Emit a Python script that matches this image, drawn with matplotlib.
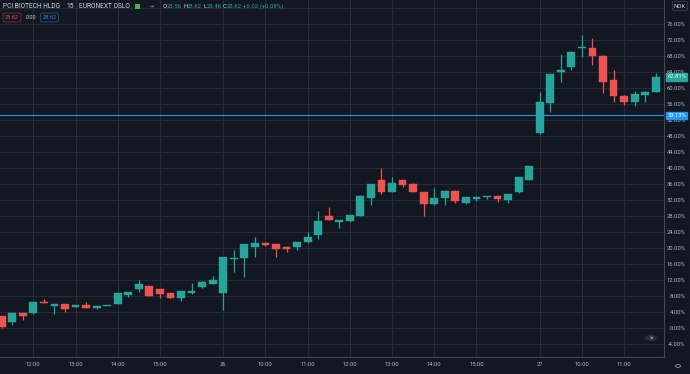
import matplotlib
matplotlib.use('Agg')
import matplotlib.pyplot as plt
import pandas as pd
import numpy as np

# ---------------- data ----------------
session_25 = pd.date_range('2020-05-25 11:15', '2020-05-25 16:15', freq='15min')
session_26 = pd.date_range('2020-05-26 09:00', '2020-05-26 16:15', freq='15min')
session_27 = pd.date_range('2020-05-27 09:00', '2020-05-27 11:45', freq='15min')
times = list(session_25) + list(session_26) + list(session_27)

opens = [3.1, 1.4, 3.7, 3.7, 6.6, 5.5, 5.9, 5.3, 5.7, 5.0, 5.5, 6.1, 8.25, 9.75, 10.5, 9.75, 8.7, 7.4, 8.7, 10.2, 11.0,
         8.8, 17.2, 17.4, 20.3, 21.2, 20.9, 20.3, 20.3, 21.4, 23.25, 28.0, 26.4, 26.75, 28.1, 32.4, 36.9, 34.0, 36.9,
         35.9, 34.0, 30.9, 32.4, 34.3, 31.2, 32.3, 32.8, 33.0, 32.0, 33.9, 37.0,
         48.8, 56.3, 64.1, 65.3, 69.9, 70.1, 68.1, 62.0, 58.1, 56.6, 58.25, 59.1]
highs = [3.1, 3.7, 3.8, 6.6, 7.2, 6.1, 6.0, 5.8, 6.4, 5.6, 5.6, 8.7, 9.0, 12.0, 10.6, 9.8, 8.8, 9.3, 11.2, 11.7, 13.0,
         17.8, 19.5, 21.0, 22.8, 21.4, 21.0, 20.5, 21.5, 23.9, 29.3, 30.3, 27.1, 28.3, 33.3, 36.0, 40.1, 37.8, 37.0,
         36.3, 34.1, 34.9, 34.4, 34.4, 32.8, 32.9, 32.9, 33.1, 33.6, 37.8, 40.6,
         59.1, 63.4, 68.5, 69.2, 73.25, 72.4, 68.2, 64.5, 58.2, 59.25, 59.2, 63.7]
lows = [0.0, 0.75, 2.0, 3.6, 6.2, 3.5, 4.1, 5.2, 5.0, 4.7, 5.4, 6.0, 7.8, 9.1, 8.0, 7.4, 7.4, 6.8, 8.6, 10.1, 10.9,
        4.5, 14.1, 12.8, 17.8, 20.6, 17.8, 19.1, 19.5, 21.3, 22.2, 26.9, 24.9, 26.6, 28.0, 30.7, 33.5, 33.9, 35.3,
        33.9, 28.1, 30.8, 30.75, 31.2, 31.1, 31.75, 32.2, 31.6, 31.2, 33.8, 36.9,
        48.5, 54.1, 61.4, 64.5, 67.8, 65.75, 58.8, 56.6, 55.75, 55.5, 56.6, 59.0]
closes = [0.3, 3.7, 3.0, 6.5, 6.25, 6.0, 4.7, 5.75, 5.0, 5.5, 5.5, 8.7, 8.9, 10.9, 8.0, 8.5, 7.4, 9.25, 9.3, 11.6, 12.0,
          17.8, 17.6, 21.0, 21.3, 20.8, 19.75, 19.75, 21.4, 22.8, 26.8, 27.0, 27.0, 28.2, 32.9, 35.9, 34.1, 36.3, 35.8,
          34.0, 30.9, 32.4, 34.3, 31.75, 32.7, 32.8, 32.8, 32.25, 33.5, 37.7, 40.5,
          56.4, 63.4, 64.5, 69.1, 70.3, 68.1, 61.6, 58.1, 56.6, 58.4, 59.1, 62.8]
price_ticks = [-4, 0, 4, 8, 12, 16, 20, 24, 28, 32, 36, 40, 44, 48, 52, 56, 60, 64, 68, 72, 76, 80]
last_value = 62.81
line_value = 53.13

# ---------------- style ----------------
BG = '#131722'
GRID = '#262a35'
SPINE = '#434651'
TXT = '#b2b5be'
UP = '#26a69a'
DOWN = '#ef5350'
BLUE = '#2196f3'
FONT = 'Roboto'

W, H = 690, 374
fig = plt.figure(figsize=(W / 100, H / 100), dpi=100, facecolor=BG)
ax = fig.add_axes([0, 17 / H, 664 / W, 357 / H])
ax.set_facecolor(BG)

idx = np.arange(len(times))
o = np.array(opens); c = np.array(closes); hi = np.array(highs); lo = np.array(lows)
up = c >= o
cols = np.where(up, UP, DOWN)
bottom = np.minimum(o, c)
height = np.maximum(np.abs(c - o), 0.25)

ax.vlines(idx, lo, hi, colors=cols, linewidth=0.9, zorder=3)
ax.bar(idx, height, bottom=bottom, width=0.74, color=cols, edgecolor=cols, linewidth=0.3, zorder=4)

ax.axhline(line_value, color=BLUE, linewidth=0.8, zorder=5)

ax.set_xlim(-0.16, 62.78)
ax.set_ylim(-7.25, 82)

# x ticks
tick_pos, tick_lab = [], []
for i, t in enumerate(times):
    if t.minute == 0 and t.hour == 9:
        tick_pos.append(i); tick_lab.append(str(t.day))
    elif t.minute == 0 and 10 <= t.hour <= 15:
        tick_pos.append(i); tick_lab.append(t.strftime('%H:%M'))
ax.set_xticks(tick_pos)
ax.set_xticklabels(tick_lab, fontsize=4.2, color=TXT, family=FONT)
ax.tick_params(axis='x', length=0, pad=3.5)

# the top tick label (80%) is hidden behind the currency box, as in the reference
ax.yaxis.tick_right()
ax.set_yticks(price_ticks)
ax.set_yticklabels([f'{v:.2f}%' if v < 80 else '' for v in price_ticks], fontsize=4.2, color=TXT, family=FONT)
ax.tick_params(axis='y', length=0, pad=15.5)
for lab in ax.get_yticklabels():
    lab.set_horizontalalignment('right')

ax.grid(True, color=GRID, linewidth=0.8)
ax.set_axisbelow(True)
for s in ['top', 'left']:
    ax.spines[s].set_visible(False)
ax.spines['right'].set_color(SPINE)
ax.spines['bottom'].set_color(SPINE)
ax.spines['right'].set_linewidth(0.8)
ax.spines['bottom'].set_linewidth(0.8)

# right-side labels
def price_box(val, face, text):
    fig.text(686 / W, 1 - (328 - val * 4) / H, text, ha='right', va='center', fontsize=4.2,
             color='white', family=FONT,
             bbox=dict(boxstyle='square,pad=0.25', fc=face, ec=face))

price_box(last_value, UP, f'{last_value:.2f}%')
price_box(line_value, BLUE, f'{line_value:.2f}%')
fig.text(680 / W, 1 - 6 / H, 'NOK', ha='center', va='center', fontsize=4.2, color='#d1d4dc', family=FONT,
         bbox=dict(boxstyle='round,pad=0.3', fc=BG, ec=SPINE, lw=0.5))

# header
hy = 1 - 6.5 / H
fig.text(3 / W, hy, 'PCI BIOTECH HLDG', fontsize=4.8, color='#d1d4dc', family=FONT, va='center')
fig.text(66 / W, hy, '15', fontsize=4.8, color='#d1d4dc', family=FONT, va='center')
fig.text(79 / W, hy, 'EURONEXT OSLO', fontsize=4.8, color='#d1d4dc', family=FONT, va='center')
fig.patches.append(plt.Rectangle((135 / W, 1 - 9 / H), 5 / W, 5 / H, transform=fig.transFigure,
                                 fc='#4caf50', ec='none'))
fig.patches.append(matplotlib.patches.Circle((152 / W, hy), 3 / W, transform=fig.transFigure,
                                             fc='#2a2e39', ec='none'))
fig.text(152 / W, hy, '–', fontsize=3.5, color='#d1d4dc', family=FONT, va='center', ha='center')
x = 163
for letter, val in [('O', '23.56'), ('H', '23.62'), ('L', '23.46'), ('C', '23.62')]:
    fig.text(x / W, hy, letter, fontsize=4.3, color='#d1d4dc', family=FONT, va='center')
    fig.text((x + 3.5) / W, hy, val, fontsize=4.3, color=UP, family=FONT, va='center')
    x += 20
fig.text(243 / W, hy, '+0.02 (+0.08%)', fontsize=4.3, color=UP, family=FONT, va='center')

ry = 1 - 17.5 / H
fig.text(12 / W, ry, '23.62', fontsize=4.0, color=DOWN, family=FONT, va='center', ha='center',
         bbox=dict(boxstyle='round,pad=0.35', fc=BG, ec='#7a2e30', lw=0.6))
fig.text(31 / W, ry, '0.00', fontsize=4.0, color='#d1d4dc', family=FONT, va='center', ha='center')
fig.text(49.5 / W, ry, '23.62', fontsize=4.0, color=BLUE, family=FONT, va='center', ha='center',
         bbox=dict(boxstyle='round,pad=0.35', fc=BG, ec='#1c4f80', lw=0.6))

# small buttons
fig.patches.append(matplotlib.patches.Circle((651 / W, 1 - 338 / H), 6 / W, transform=fig.transFigure,
                                             fc='#2a2e39', ec='none'))
fig.text(651 / W, 1 - 338 / H, '»', fontsize=5, color='#d1d4dc', family=FONT, va='center', ha='center')
fig.patches.append(matplotlib.patches.Circle((678 / W, 1 - 366 / H), 2.5 / W, transform=fig.transFigure,
                                             fc='none', ec=TXT, lw=0.5))

fig.savefig('out.png', dpi=100, facecolor=BG)
